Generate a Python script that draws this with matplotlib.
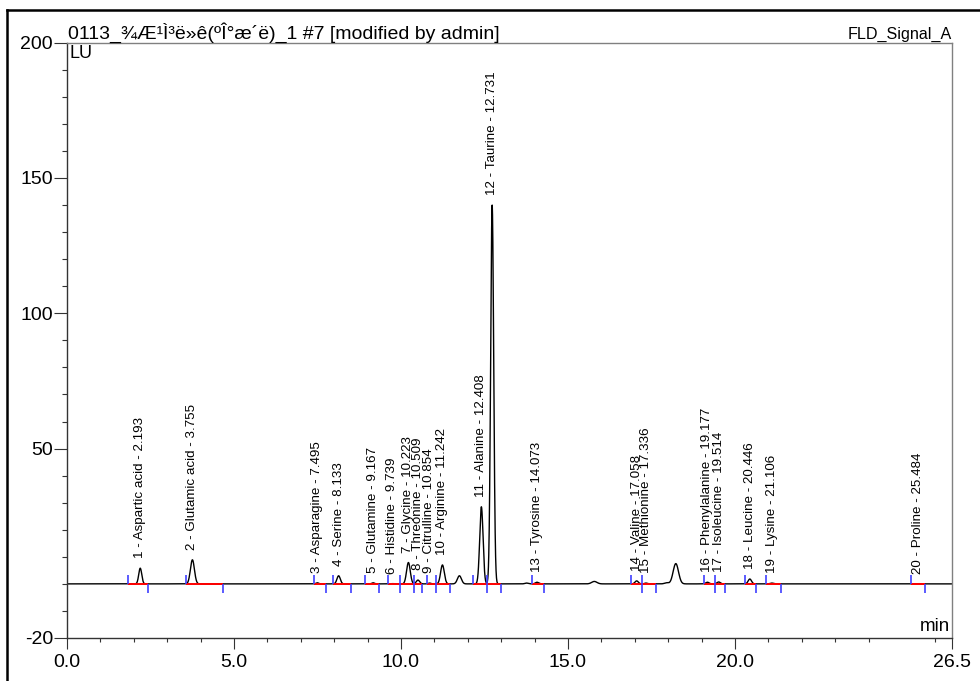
import numpy as np
import matplotlib
matplotlib.use("Agg")
import matplotlib.pyplot as plt
from matplotlib.lines import Line2D
from matplotlib.ticker import FixedLocator

plt.rcParams['font.family'] = ['Liberation Sans', 'DejaVu Sans']

# ---------------- data ----------------
title_text = "0113_¾Æ¹Ì³ë»ê(ºÎ°æ´ë)_1 #7 [modified by admin]"
signal_name = "FLD_Signal_A"
y_unit = "LU"
x_unit = "min"

peak_numbers = list(range(1, 21))
peak_names = ["Aspartic acid", "Glutamic acid", "Asparagine", "Serine", "Glutamine",
              "Histidine", "Glycine", "Threonine", "Citrulline", "Arginine",
              "Alanine", "Taurine", "Tyrosine", "Valine", "Methionine",
              "Phenylalanine", "Isoleucine", "Leucine", "Lysine", "Proline"]
retention_times = [2.193, 3.755, 7.495, 8.133, 9.167, 9.739, 10.223, 10.509, 10.854, 11.242,
                   12.408, 12.731, 14.073, 17.058, 17.336, 19.177, 19.514, 20.446, 21.106, 25.484]
peak_heights = [5.8, 8.9, 0.4, 3.0, 0.4, 0.1, 7.9, 1.4, 0.3, 7.0,
                28.5, 140.0, 0.6, 1.1, 0.3, 0.6, 0.7, 1.8, 0.3, 0.1]
peak_sigmas = [0.045, 0.06, 0.04, 0.05, 0.04, 0.04, 0.055, 0.05, 0.04, 0.055,
               0.05, 0.045, 0.05, 0.05, 0.04, 0.05, 0.05, 0.05, 0.05, 0.05]
peak_starts = [1.83, 3.56, 7.40, 7.95, 8.93, 9.62, 9.97, 10.40, 10.79, 11.04,
               12.16, 12.57, 13.91, 16.88, 17.22, 19.07, 19.40, 20.30, 20.92, 25.27]
peak_ends = [2.43, 4.66, 7.75, 8.49, 9.34, 9.97, 10.40, 10.62, 11.04, 11.47,
             12.57, 12.99, 14.27, 17.22, 17.63, 19.40, 19.71, 20.62, 21.38, 25.68]

# unlabeled peaks in the trace
other_times = [11.75, 13.76, 15.79, 17.95, 18.23]
other_heights = [3.0, 0.3, 0.9, 0.4, 7.5]
other_sigmas = [0.06, 0.05, 0.08, 0.06, 0.08]

x_ticks = [0.0, 5.0, 10.0, 15.0, 20.0, 26.5]
x_tick_labels = ["0.0", "5.0", "10.0", "15.0", "20.0", "26.5"]
x_minor = [v for v in range(1, 27) if v % 5 != 0]
y_ticks = [-20, 50, 100, 150, 200]
y_tick_labels = ["-20", "50", "100", "150", "200"]
y_minor = [v for v in range(-10, 200, 10) if v % 50 != 0] + [0]

# ---------------- figure ----------------
W, H = 980, 681
fig = plt.figure(figsize=(W / 100, H / 100), dpi=100)
ax = fig.add_axes([67 / W, 1 - 638 / H, (952 - 67) / W, (638 - 42.7) / H])

# chromatogram trace built from the read peak parameters
t = np.linspace(0, 26.5, 8000)
sig = np.zeros_like(t)
for rt, h, s in zip(list(retention_times) + other_times,
                    list(peak_heights) + other_heights,
                    list(peak_sigmas) + other_sigmas):
    sig += h * np.exp(-0.5 * ((t - rt) / s) ** 2)
ax.plot(t, sig, color="black", lw=1.0, zorder=2)

# integration baselines and delimiters
tick_len = 3.3
for s0, e0 in zip(peak_starts, peak_ends):
    ax.plot([s0, e0], [0, 0], color="#ff0000", lw=1.4, zorder=3, solid_capstyle="butt")
ax.vlines(peak_starts, 0, tick_len, color="#4040ff", lw=1.2, zorder=4)
ax.vlines(peak_ends, -tick_len, 0, color="#4040ff", lw=1.2, zorder=4)

# peak labels
for n, name, rt, h in zip(peak_numbers, peak_names, retention_times, peak_heights):
    ax.annotate(f"{n} - {name} - {rt:.3f}", xy=(rt, h), xytext=(0, 7.2),
                textcoords="offset points", rotation=90, ha="center", va="bottom",
                fontsize=9.6, color="black", zorder=5)

ax.set_xlim(0, 26.5)
ax.set_ylim(-20, 200)

ax.xaxis.set_major_locator(FixedLocator(x_ticks))
ax.set_xticklabels(x_tick_labels)
ax.xaxis.set_minor_locator(FixedLocator(x_minor))
ax.yaxis.set_major_locator(FixedLocator(y_ticks))
ax.set_yticklabels(y_tick_labels)
ax.yaxis.set_minor_locator(FixedLocator(y_minor))

ax.tick_params(axis="x", which="major", direction="out", length=8, width=0.8,
               color="#333333", labelsize=14, pad=3.5)
ax.tick_params(axis="x", which="minor", direction="out", length=2.6, width=0.8, color="#333333")
ax.tick_params(axis="y", which="major", direction="out", length=9.5, width=0.8,
               color="#333333", labelsize=14, pad=0.5)
ax.tick_params(axis="y", which="minor", direction="out", length=3.6, width=0.8, color="#333333")

for side in ["left", "bottom"]:
    ax.spines[side].set_color("#333333")
    ax.spines[side].set_linewidth(1.0)
for side in ["top", "right"]:
    ax.spines[side].set_color("#808080")
    ax.spines[side].set_linewidth(1.0)

ax.annotate(title_text, xy=(0, 1), xycoords="axes fraction", xytext=(1, 3),
            textcoords="offset points", ha="left", va="baseline", fontsize=14)
ax.annotate(signal_name, xy=(1, 1), xycoords="axes fraction", xytext=(0, 3),
            textcoords="offset points", ha="right", va="baseline", fontsize=11.6)
ax.annotate(y_unit, xy=(0, 1), xycoords="axes fraction", xytext=(1.5, -2),
            textcoords="offset points", ha="left", va="top", fontsize=13)
ax.annotate(x_unit, xy=(1, 0), xycoords="axes fraction", xytext=(-1.5, 2),
            textcoords="offset points", ha="right", va="bottom", fontsize=13.5)

# outer window frame (top and left edges visible)
fig.add_artist(Line2D([7 / W, 1], [1 - 9.5 / H, 1 - 9.5 / H], transform=fig.transFigure,
                      color="black", lw=1.8))
fig.add_artist(Line2D([7 / W, 7 / W], [0, 1 - 9.5 / H], transform=fig.transFigure,
                      color="black", lw=1.8))

fig.savefig("out.png", dpi=100)
